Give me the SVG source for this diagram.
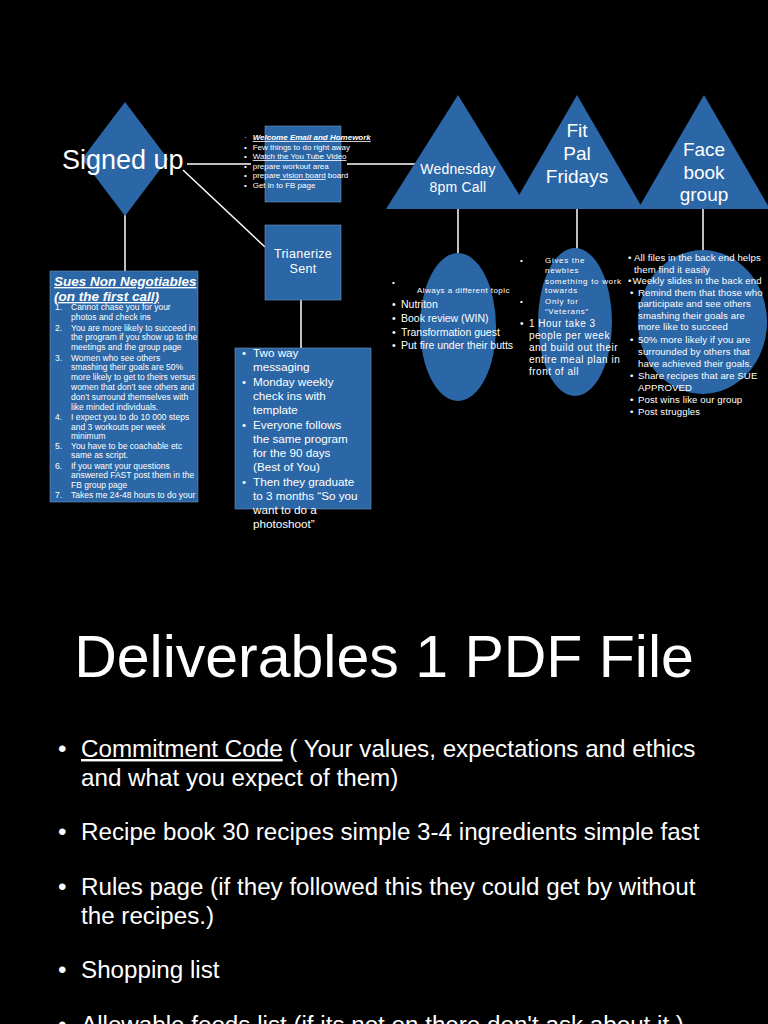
<svg xmlns="http://www.w3.org/2000/svg" width="768" height="1024" viewBox="0 0 768 1024">
<style>
text{font-family:"Liberation Sans",Arial,Helvetica,sans-serif;fill:#fff}
.blue{fill:#2b66a6}
.box{fill:#2b66a6;stroke:#6f95c2;stroke-width:0.6}
.conn{stroke:#fff;stroke-width:1.5;fill:none}
.u{text-decoration:underline}
.bi{font-weight:bold;font-style:italic}
</style>
<rect x="0" y="0" width="768" height="1024" fill="#000"/>

<g id="connectors">
<line class="conn" x1="187" y1="164" x2="251" y2="164"/>
<line class="conn" x1="347" y1="164" x2="418" y2="164"/>
<line class="conn" x1="183" y1="170" x2="265" y2="247"/>
<line class="conn" x1="125" y1="215" x2="125" y2="272"/>
<line class="conn" x1="301" y1="300" x2="301" y2="349"/>
<line class="conn" x1="458" y1="208" x2="458" y2="254"/>
<line class="conn" x1="577" y1="208" x2="577" y2="250"/>
<line class="conn" x1="703" y1="208" x2="703" y2="251"/>
</g>

<g id="signed-up">
<polygon class="blue" points="125,102 168,159 125,216 82,159"/>
<text x="62" y="169" font-size="27">Signed up</text>
</g>

<g id="welcome-email">
<rect class="box" x="265" y="126" width="76" height="76"/>
<g font-size="8">
<text x="244" y="140">·</text><text x="252.7" y="140" class="bi u">Welcome Email and Homework</text>
<text x="244" y="149.5">•</text><text x="252.7" y="149.5">Few things to do right away</text>
<text x="244" y="159">•</text><text x="252.7" y="159" class="u">Watch the You Tube Video</text>
<text x="244" y="168.5">•</text><text x="252.7" y="168.5">prepare workout area</text>
<text x="244" y="178">•</text><text x="252.7" y="178">prepare<tspan class="u"> vision board</tspan> board</text>
<text x="244" y="188">•</text><text x="252.7" y="188">Get in to FB page</text>
</g>
</g>

<g id="trianerize">
<rect class="box" x="265" y="225" width="76" height="75"/>
<text x="303" y="258" font-size="12.5" text-anchor="middle" letter-spacing="0.3">Trianerize</text>
<text x="303" y="273" font-size="12.5" text-anchor="middle" letter-spacing="0.3">Sent</text>
</g>

<g id="non-negotiables">
<rect class="box" x="50" y="271" width="148" height="231"/>
<text x="54" y="286" font-size="13.5" class="bi u">Sues Non Negotiables</text>
<text x="54" y="301" font-size="13.5" class="bi u">(on the first call)</text>
<g font-size="8.5">
<text x="55" y="310">1.</text><text x="71" y="310">Cannot chase you for your</text>
<text x="71" y="319.5">photos and check ins</text>
<text x="55" y="330.5">2.</text><text x="71" y="330.5">You are more likely to succeed in</text>
<text x="71" y="340">the program if you show up to the</text>
<text x="71" y="349.5">meetings and the group page</text>
<text x="55" y="360.5">3.</text><text x="71" y="360.5">Women who see others</text>
<text x="71" y="370">smashing their goals are 50%</text>
<text x="71" y="379.5">more likely to get to theirs versus</text>
<text x="71" y="389.5">women that don’t see others and</text>
<text x="71" y="399.5">don’t surround themselves with</text>
<text x="71" y="409.5">like minded individuals.</text>
<text x="55" y="420">4.</text><text x="71" y="420">I expect you to do 10 000 steps</text>
<text x="71" y="429.5">and 3 workouts per week</text>
<text x="71" y="439">minimum</text>
<text x="55" y="449">5.</text><text x="71" y="449">You have to be coachable etc</text>
<text x="71" y="458">same as script.</text>
<text x="55" y="468.5">6.</text><text x="71" y="468.5">If you want your questions</text>
<text x="71" y="478">answered FAST post them in the</text>
<text x="71" y="487.5">FB group page</text>
<text x="55" y="497.5">7.</text><text x="71" y="497.5">Takes me 24-48 hours to do your</text>
</g>
</g>

<g id="messaging">
<rect class="box" x="235" y="348" width="136" height="161"/>
<g font-size="11.7">
<text x="242" y="357">•</text><text x="253" y="357">Two way</text>
<text x="253" y="371">messaging</text>
<text x="242" y="386">•</text><text x="253" y="386">Monday weekly</text>
<text x="253" y="400">check ins with</text>
<text x="253" y="414">template</text>
<text x="242" y="429">•</text><text x="253" y="429">Everyone follows</text>
<text x="253" y="443">the same program</text>
<text x="253" y="457">for the 90 days</text>
<text x="253" y="471">(Best of You)</text>
<text x="242" y="486">•</text><text x="253" y="486">Then they graduate</text>
<text x="253" y="500">to 3 months “So you</text>
<text x="253" y="514">want to do a</text>
<text x="253" y="528">photoshoot”</text>
</g>
</g>

<g id="wednesday-call">
<polygon class="blue" points="458,95 528,209 386,209"/>
<text x="458" y="174" font-size="14" text-anchor="middle" letter-spacing="0.2">Wednesday</text>
<text x="458" y="192" font-size="14" text-anchor="middle" letter-spacing="0.2">8pm Call</text>
</g>

<g id="fit-pal-fridays">
<polygon class="blue" points="577,95 643,209 511,209"/>
<text x="577" y="137" font-size="19" text-anchor="middle">Fit</text>
<text x="577" y="160" font-size="19" text-anchor="middle">Pal</text>
<text x="577" y="183" font-size="19" text-anchor="middle">Fridays</text>
</g>

<g id="facebook-group">
<polygon class="blue" points="704,95 770,209 638,209"/>
<text x="704" y="156" font-size="19" text-anchor="middle">Face</text>
<text x="704" y="179" font-size="19" text-anchor="middle">book</text>
<text x="704" y="201" font-size="19" text-anchor="middle">group</text>
</g>

<g id="wednesday-notes">
<ellipse class="blue" cx="458" cy="327" rx="38" ry="74"/>
<text x="392" y="285" font-size="8">•</text>
<text x="417" y="293" font-size="8" letter-spacing="0.45">Always a different topic</text>
<g font-size="10.5">
<text x="392" y="308">•</text><text x="401" y="308">Nutriton</text>
<text x="392" y="322">•</text><text x="401" y="322">Book review (WIN)</text>
<text x="392" y="335.5">•</text><text x="401" y="335.5">Transformation guest</text>
<text x="392" y="348.5">•</text><text x="401" y="348.5">Put fire under their butts</text>
</g>
</g>

<g id="fit-pal-notes">
<ellipse class="blue" cx="575" cy="322" rx="37" ry="74"/>
<g font-size="8" letter-spacing="0.7">
<text x="520" y="263">•</text><text x="545" y="263">Gives the</text>
<text x="545" y="273">newbies</text>
<text x="545" y="283.5">something to work</text>
<text x="545" y="293">towards</text>
<text x="520" y="304">•</text><text x="545" y="304">Only for</text>
<text x="545" y="313.5">“Veterans”</text>
</g>
<g font-size="10" letter-spacing="0.5">
<text x="520" y="327">•</text><text x="529" y="327">1 Hour take 3</text>
<text x="529" y="339">people per week</text>
<text x="529" y="351">and build out their</text>
<text x="529" y="363">entire meal plan in</text>
<text x="529" y="375">front of all</text>
</g>
</g>

<g id="facebook-notes">
<ellipse class="blue" cx="702.5" cy="322" rx="64.5" ry="72"/>
<g font-size="9.6" letter-spacing="0.1">
<text x="628" y="261">•</text><text x="634" y="261">All files in the back end helps</text>
<text x="634" y="272.5">them find it easily</text>
<text x="628" y="284">•</text><text x="632.5" y="284">Weekly slides in the back end</text>
<text x="630" y="295.5">•</text><text x="638" y="295.5">Remind them that those who</text>
<text x="638" y="307">participate and see others</text>
<text x="638" y="318.5">smashing their goals are</text>
<text x="638" y="330">more like to succeed</text>
<text x="630" y="342.5">•</text><text x="638" y="342.5">50% more likely if you are</text>
<text x="638" y="354.5">surrounded by others that</text>
<text x="638" y="366.5">have achieved their goals.</text>
<text x="630" y="379">•</text><text x="638" y="379">Share recipes that are SUE</text>
<text x="638" y="391">APPROVED</text>
<text x="630" y="403">•</text><text x="638" y="403">Post wins like our group</text>
<text x="630" y="415">•</text><text x="638" y="415">Post struggles</text>
</g>
</g>

<g id="deliverables">
<text x="384" y="677" font-size="59" text-anchor="middle">Deliverables 1 PDF File</text>
<g font-size="24.2">
<text x="58" y="757">•</text><text x="81" y="757"><tspan class="u">Commitment Code</tspan> ( Your values, expectations and ethics</text>
<text x="81" y="786">and what you expect of them)</text>
<text x="58" y="840">•</text><text x="81" y="840">Recipe book 30 recipes simple 3-4 ingredients simple fast</text>
<text x="58" y="895">•</text><text x="81" y="895">Rules page (if they followed this they could get by without</text>
<text x="81" y="924">the recipes.)</text>
<text x="58" y="978">•</text><text x="81" y="978">Shopping list</text>
<text x="58" y="1033">•</text><text x="81" y="1033">Allowable foods list (if its not on there don't ask about it.)</text>
</g>
</g>
</svg>
